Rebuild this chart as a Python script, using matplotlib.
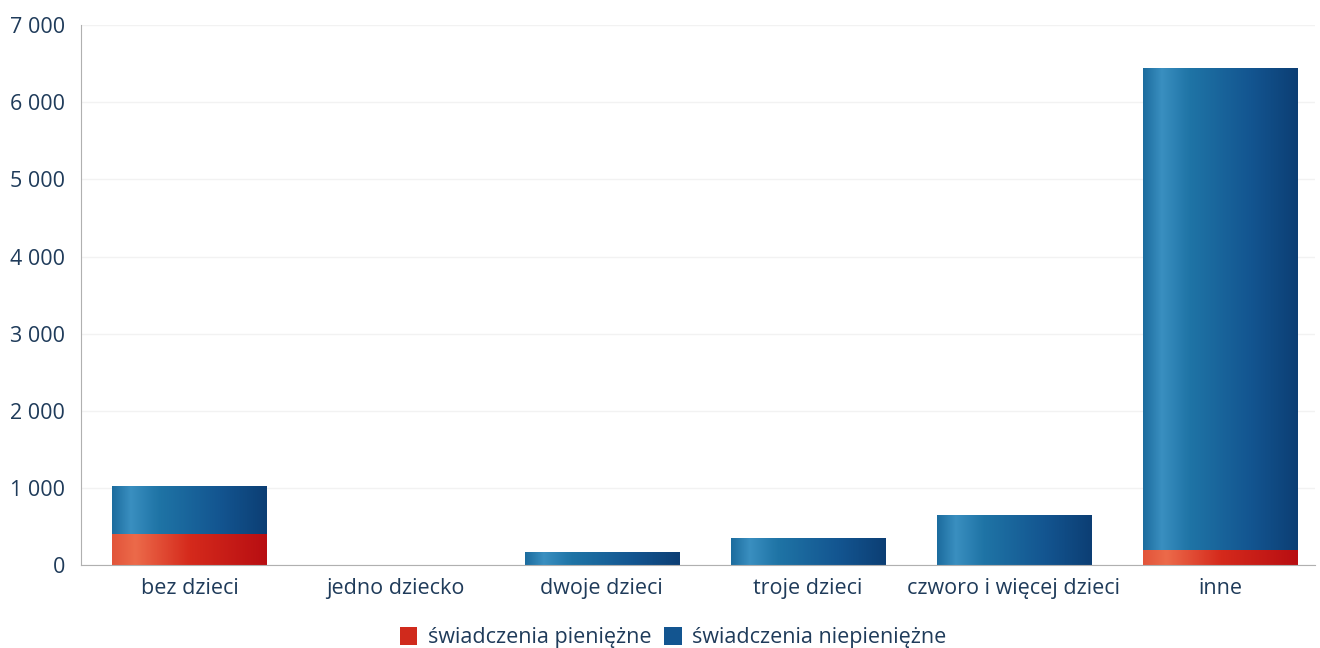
import numpy as np
import matplotlib.pyplot as plt
from matplotlib.colors import LinearSegmentedColormap
from matplotlib.patches import Patch
from matplotlib.ticker import FuncFormatter

# -----------------------
# Data
# -----------------------
categories = ["bez dzieci", "jedno dziecko", "dwoje dzieci", "troje dzieci",
              "czworo i więcej dzieci", "inne"]
pieniezne = [400, 0, 0, 0, 0, 200]
niepieniezne = [620, 0, 160, 350, 640, 6250]
series_names = ["świadczenia pieniężne", "świadczenia niepieniężne"]
y_ticks = [0, 1000, 2000, 3000, 4000, 5000, 6000, 7000]

text_color = "#1f3b5a"
plt.rcParams['font.family'] = ['Open Sans', 'DejaVu Sans']

# cylinder-like shading across each bar
blue_cmap = LinearSegmentedColormap.from_list(
    "blue_cyl", [(0.0, "#1c6c9e"), (0.12, "#3a8fc0"), (0.3, "#1f74a6"),
                 (0.7, "#135590"), (1.0, "#0c3e74")])
red_cmap = LinearSegmentedColormap.from_list(
    "red_cyl", [(0.0, "#e2543a"), (0.15, "#ec6a4a"), (0.5, "#d52a1c"),
                (1.0, "#b80e12")])
grad = np.linspace(0, 1, 256).reshape(1, -1)

fig = plt.figure(figsize=(13.2, 6.48), dpi=100)
ax = fig.add_axes([0.061, 0.128, 0.935, 0.833])

x = np.arange(len(categories))
width = 0.75

def gradient_bars(xs, bottoms, heights, cmap):
    bars = ax.bar(xs, heights, width, bottom=bottoms, color="none", linewidth=0, zorder=2)
    for rect in bars:
        h = rect.get_height()
        if h <= 0:
            continue
        x0 = rect.get_x()
        y0 = rect.get_y()
        ax.imshow(grad, extent=[x0, x0 + rect.get_width(), y0, y0 + h],
                  aspect='auto', cmap=cmap, zorder=2, interpolation='bilinear')

gradient_bars(x, [0] * len(x), pieniezne, red_cmap)
gradient_bars(x, pieniezne, niepieniezne, blue_cmap)

ax.set_xlim(-0.53, 5.46)
ax.set_ylim(0, 7000)
ax.set_yticks(y_ticks)
ax.yaxis.set_major_formatter(FuncFormatter(lambda v, p: f"{v:,.0f}".replace(",", " ")))
ax.set_xticks(x)
ax.set_xticklabels(categories)
ax.tick_params(axis='both', length=0, labelsize=15.5, labelcolor=text_color)
ax.tick_params(axis='y', pad=11)
ax.tick_params(axis='x', pad=9)

ax.grid(axis='y', color="#f2f2f2", linewidth=1, zorder=0)
ax.set_axisbelow(True)
for s in ["top", "right"]:
    ax.spines[s].set_visible(False)
ax.spines["left"].set_color("#b0b0b0")
ax.spines["bottom"].set_color("#b0b0b0")

handles = [Patch(facecolor="#d02a1c", edgecolor="none"),
           Patch(facecolor="#135590", edgecolor="none")]
leg = fig.legend(handles, series_names, loc='lower center', bbox_to_anchor=(0.51, -0.03),
                 ncol=2, frameon=False, fontsize=15.5, handlelength=0.8, handleheight=0.9,
                 handletextpad=0.5, columnspacing=0.6)
for t in leg.get_texts():
    t.set_color(text_color)

fig.savefig("out.png", dpi=100)
